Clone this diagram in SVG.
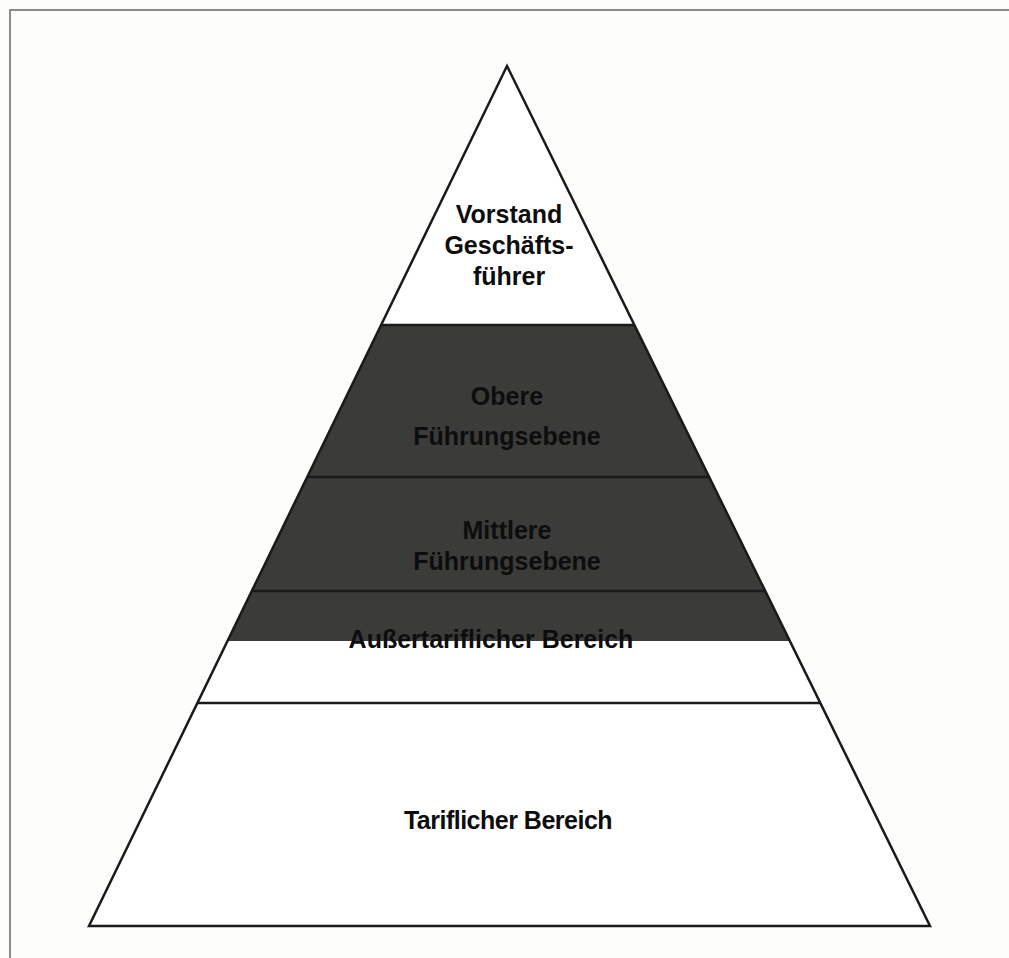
<svg xmlns="http://www.w3.org/2000/svg" width="1009" height="958" viewBox="0 0 1009 958">
  <style>
    .lbl { font-family: "Liberation Sans", Arial, Helvetica, sans-serif; font-weight: bold; font-size: 25px; fill: #0d0d0d; text-anchor: middle; }
    .sep { stroke: #1a1a1a; stroke-width: 2.5; fill: none; }
    .outline { stroke: #1a1a1a; stroke-width: 2.5; fill: none; stroke-linejoin: miter; }
  </style>

  <!-- page background and frame -->
  <rect x="0" y="0" width="1009" height="958" fill="#fdfdfc"/>
  <path d="M10 958 V10 H1009" fill="none" stroke="#8c8c8c" stroke-width="2"/>

  <!-- pyramid body -->
  <polygon id="pyramid-base" points="507,66 930,926 89,926" fill="#ffffff"/>

  <!-- level: Vorstand / Geschäftsführer -->
  <g id="level-vorstand">
    <text class="lbl" x="509" y="223">Vorstand</text>
    <text class="lbl" x="509" y="254">Geschäfts-</text>
    <text class="lbl" x="509" y="285">führer</text>
  </g>

  <!-- dark band covering upper and middle management -->
  <polygon id="dark-band" points="381.1,325 634.4,325 789.8,641 227.5,641" fill="#3b3b39"/>

  <g id="level-obere">
    <text class="lbl" x="507" y="405">Obere</text>
    <text class="lbl" x="507" y="445">Führungsebene</text>
  </g>

  <g id="level-mittlere">
    <text class="lbl" x="507" y="539">Mittlere</text>
    <text class="lbl" x="507" y="570">Führungsebene</text>
  </g>

  <g id="level-aussertariflich">
    <text class="lbl" x="491" y="648" font-size="23.5">Außertariflicher Bereich</text>
  </g>

  <g id="level-tariflich">
    <text class="lbl" x="508" y="829" font-size="23" letter-spacing="-0.5">Tariflicher Bereich</text>
  </g>

  <!-- level dividers and outline -->
  <g id="connectors">
    <line class="sep" x1="381.1" y1="325" x2="634.4" y2="325"/>
    <line class="sep" x1="307.2" y1="477" x2="709.2" y2="477"/>
    <line class="sep" x1="251.8" y1="591" x2="765.2" y2="591"/>
    <line class="sep" x1="197.4" y1="703" x2="820.3" y2="703"/>
    <polygon class="outline" points="507,66 930,926 89,926"/>
  </g>
</svg>
